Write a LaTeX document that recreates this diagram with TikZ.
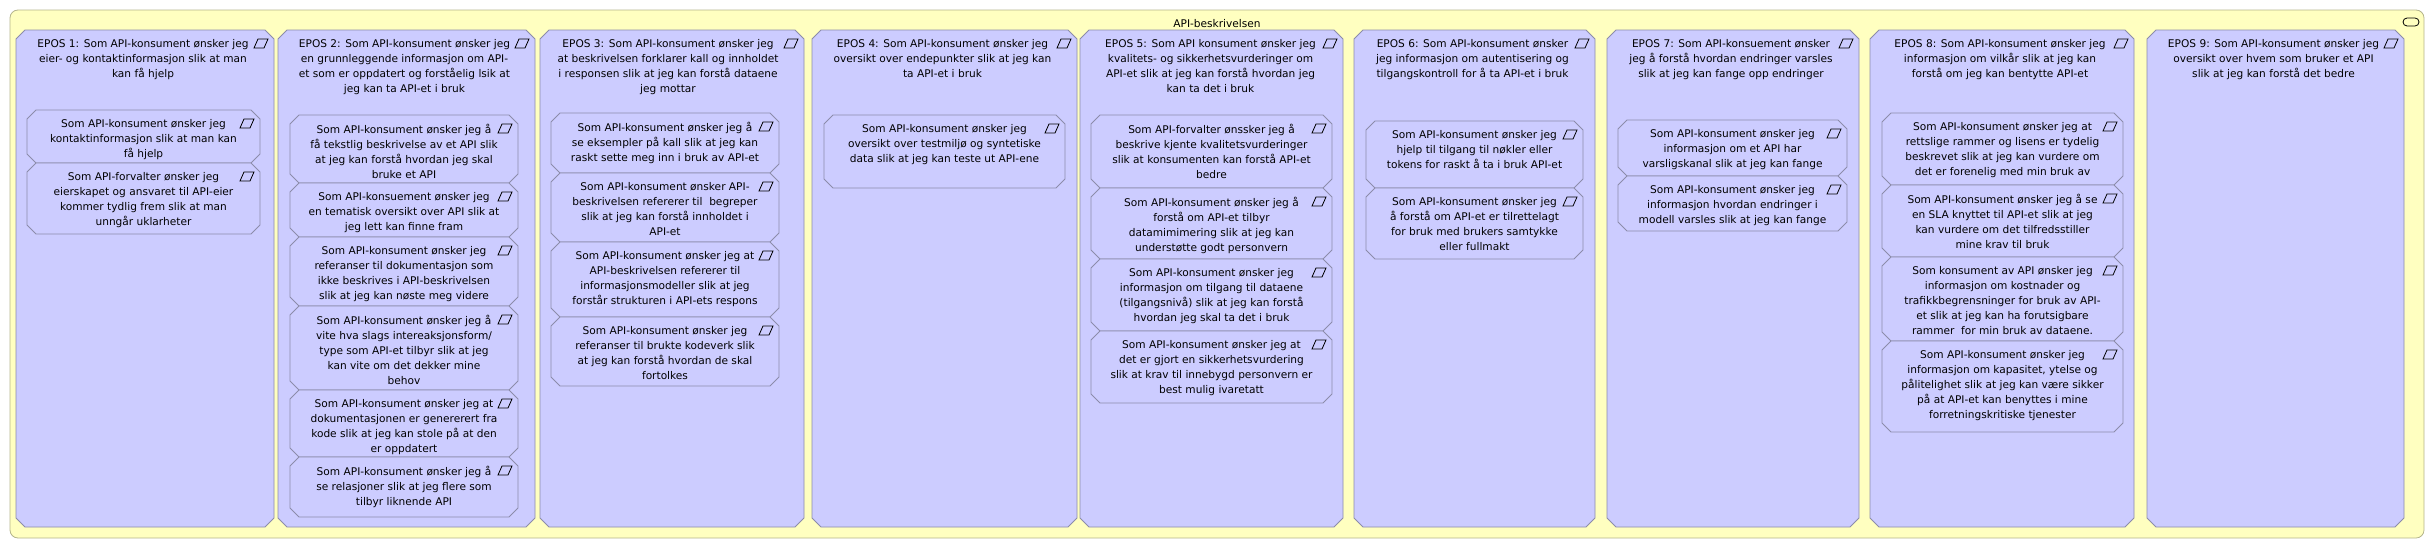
\documentclass[tikz,border=0pt]{standalone}
\usepackage{fontspec}
\setmainfont{DejaVu Sans}
\usetikzlibrary{positioning}

\definecolor{areayellow}{HTML}{FFFFC0}
\definecolor{arealine}{HTML}{B4B48C}
\definecolor{epicfill}{HTML}{CCCCFF}
\definecolor{epicline}{HTML}{8C8CAA}

\tikzset{
  storymark/.pic={
    \draw[black, line width=0.8pt] (-20,18) -- (-10,18) -- (-6,9) -- (-16,9) -- cycle;
  }
}

% chamfered outline round a named box
\newcommand{\chamfer}[1]{
  \filldraw[draw=epicline, fill=epicfill, line width=0.8pt]
    ([xshift=9pt]#1.north west) -- ([xshift=-9pt]#1.north east)
    -- ([yshift=-9pt]#1.north east) -- ([yshift=9pt]#1.south east)
    -- ([xshift=-9pt]#1.south east) -- ([xshift=9pt]#1.south west)
    -- ([yshift=9pt]#1.south west) -- ([yshift=-9pt]#1.north west) -- cycle;
}

\begin{document}
\begin{tikzpicture}[x=1pt,y=-1pt,
    areabox/.style={rectangle, rounded corners=8pt, draw=arealine, fill=areayellow,
      line width=0.8pt, inner sep=0pt, outer sep=0pt, anchor=north west},
    epic/.style={rectangle, inner sep=0pt, outer sep=0pt,
      minimum height=497pt, anchor=north},
    story/.style={rectangle, inner sep=0pt, outer sep=0pt, anchor=north},
    storytext/.style={align=center, inner sep=0pt, anchor=north,
      font=\fontsize{10.6}{15}\selectfont}
  ]

    \useasboundingbox (0,0) rectangle (2433,549);

    \node[areabox,
          minimum width = 2414pt,
          minimum height = 528pt
          ] (area) at (10,10) {};
    \node[storytext, below=9pt of area.north] (title) {API-beskrivelsen};
    \node[rectangle,
          rounded corners = 4pt,
          draw,
          line width = 0.8pt,
          minimum width = 16pt,
          minimum height = 8pt,
          inner sep = 0pt
          ] (fold) at (2411,22) {};

    % epos columns
    \node[epic, minimum width = 258pt] (e1) at (145,30) {};
    \node[epic, minimum width = 257pt] (e2) at (406.5,30) {};
    \node[epic, minimum width = 264pt] (e3) at (672,30) {};
    \node[epic, minimum width = 265pt] (e4) at (944.5,30) {};
    \node[epic, minimum width = 263pt] (e5) at (1211.5,30) {};
    \node[epic, minimum width = 241pt] (e6) at (1474.5,30) {};
    \node[epic, minimum width = 252pt] (e7) at (1733,30) {};
    \node[epic, minimum width = 264pt] (e8) at (2002,30) {};
    \node[epic, minimum width = 257pt] (e9) at (2275.5,30) {};

    % stories, epos 1
    \node[story, minimum width = 233pt, minimum height = 53pt] (s11) at (143.5,110) {};
    \node[story, minimum width = 233pt, minimum height = 71pt, below=0pt of s11] (s12) {};
    % stories, epos 2
    \node[story, minimum width = 228pt, minimum height = 68pt] (s21) at (404,115) {};
    \node[story, minimum width = 228pt, minimum height = 54pt, below=0pt of s21] (s22) {};
    \node[story, minimum width = 228pt, minimum height = 69pt, below=0pt of s22] (s23) {};
    \node[story, minimum width = 228pt, minimum height = 84pt, below=0pt of s23] (s24) {};
    \node[story, minimum width = 228pt, minimum height = 67pt, below=0pt of s24] (s25) {};
    \node[story, minimum width = 228pt, minimum height = 60pt, below=0pt of s25] (s26) {};
    % stories, epos 3
    \node[story, minimum width = 228pt, minimum height = 60pt] (s31) at (665,113) {};
    \node[story, minimum width = 228pt, minimum height = 69pt, below=0pt of s31] (s32) {};
    \node[story, minimum width = 228pt, minimum height = 75pt, below=0pt of s32] (s33) {};
    \node[story, minimum width = 228pt, minimum height = 69pt, below=0pt of s33] (s34) {};
    % stories, epos 4
    \node[story, minimum width = 241pt, minimum height = 73pt] (s41) at (944.5,115) {};
    % stories, epos 5
    \node[story, minimum width = 241pt, minimum height = 73pt] (s51) at (1211.5,115) {};
    \node[story, minimum width = 241pt, minimum height = 71pt, below=0pt of s51] (s52) {};
    \node[story, minimum width = 241pt, minimum height = 72pt, below=0pt of s52] (s53) {};
    \node[story, minimum width = 241pt, minimum height = 72pt, below=0pt of s53] (s54) {};
    % stories, epos 6
    \node[story, minimum width = 217pt, minimum height = 67pt] (s61) at (1474.5,121) {};
    \node[story, minimum width = 217pt, minimum height = 71pt, below=0pt of s61] (s62) {};
    % stories, epos 7
    \node[story, minimum width = 229pt, minimum height = 56pt] (s71) at (1732.5,120) {};
    \node[story, minimum width = 229pt, minimum height = 55pt, below=0pt of s71] (s72) {};
    % stories, epos 8
    \node[story, minimum width = 241pt, minimum height = 72pt] (s81) at (2002.5,113) {};
    \node[story, minimum width = 241pt, minimum height = 72pt, below=0pt of s81] (s82) {};
    \node[story, minimum width = 241pt, minimum height = 84pt, below=0pt of s82] (s83) {};
    \node[story, minimum width = 241pt, minimum height = 91pt, below=0pt of s83] (s84) {};

    % outlines and marks
    \foreach \n in {e1,e2,e3,e4,e5,e6,e7,e8,e9,
                    s11,s12,s21,s22,s23,s24,s25,s26,s31,s32,s33,s34,s41,
                    s51,s52,s53,s54,s61,s62,s71,s72,s81,s82,s83,s84}{
        \chamfer{\n}
        \pic at (\n.north -| \n.east) {storymark};
    }

    % texts
    \node[storytext, below=9pt of e1.north, xshift=-2pt] {EPOS 1: Som API-konsument ønsker jeg\\eier- og kontaktinformasjon slik at man\\kan få hjelp};
    \node[storytext, below=9pt of e2.north, xshift=-2pt] {EPOS 2: Som API-konsument ønsker jeg\\en grunnleggende informasjon om API-\\et som er oppdatert og forståelig lsik at\\jeg kan ta API-et i bruk};
    \node[storytext, below=9pt of e3.north, xshift=-4pt] {EPOS 3: Som API-konsument ønsker jeg\\at beskrivelsen forklarer kall og innholdet\\i responsen slik at jeg kan forstå dataene\\jeg mottar};
    \node[storytext, below=9pt of e4.north, xshift=-2pt] {EPOS 4: Som API-konsument ønsker jeg\\oversikt over endepunkter slik at jeg kan\\ta API-et i bruk};
    \node[storytext, below=9pt of e5.north, xshift=-1pt] {EPOS 5: Som API konsument ønsker jeg\\kvalitets- og sikkerhetsvurderinger om\\API-et slik at jeg kan forstå hvordan jeg\\kan ta det i bruk};
    \node[storytext, below=9pt of e6.north, xshift=-2pt] {EPOS 6: Som API-konsument ønsker\\jeg informasjon om autentisering og\\tilgangskontroll for å ta API-et i bruk};
    \node[storytext, below=9pt of e7.north, xshift=-2pt] {EPOS 7: Som API-konsuement ønsker\\jeg å forstå hvordan endringer varsles\\slik at jeg kan fange opp endringer};
    \node[storytext, below=9pt of e8.north, xshift=-2pt] {EPOS 8: Som API-konsument ønsker jeg\\informasjon om vilkår slik at jeg kan\\forstå om jeg kan bentytte API-et};
    \node[storytext, below=9pt of e9.north, xshift=-2pt] {EPOS 9: Som API-konsument ønsker jeg\\oversikt over hvem som bruker et API\\slik at jeg kan forstå det bedre};

    \node[storytext, below=9pt of s11.north] {Som API-konsument ønsker jeg\\kontaktinformasjon slik at man kan\\få hjelp};
    \node[storytext, below=9pt of s12.north] {Som API-forvalter ønsker jeg\\eierskapet og ansvaret til API-eier\\kommer tydlig frem slik at man\\unngår uklarheter};

    \node[storytext, below=9pt of s21.north] {Som API-konsument ønsker jeg å\\få tekstlig beskrivelse av et API slik\\at jeg kan forstå hvordan jeg skal\\bruke et API};
    \node[storytext, below=9pt of s22.north] {Som API-konsuement ønsker jeg\\en tematisk oversikt over API slik at\\jeg lett kan finne fram};
    \node[storytext, below=9pt of s23.north] {Som API-konsument ønsker jeg\\referanser til dokumentasjon som\\ikke beskrives i API-beskrivelsen\\slik at jeg kan nøste meg videre};
    \node[storytext, below=9pt of s24.north] {Som API-konsument ønsker jeg å\\vite hva slags intereaksjonsform/\\type som API-et tilbyr slik at jeg\\kan vite om det dekker mine\\behov};
    \node[storytext, below=9pt of s25.north] {Som API-konsument ønsker jeg at\\dokumentasjonen er genererert fra\\kode slik at jeg kan stole på at den\\er oppdatert};
    \node[storytext, below=9pt of s26.north] {Som API-konsument ønsker jeg å\\se relasjoner slik at jeg flere som\\tilbyr liknende API};

    \node[storytext, below=9pt of s31.north] {Som API-konsument ønsker jeg å\\se eksempler på kall slik at jeg kan\\raskt sette meg inn i bruk av API-et};
    \node[storytext, below=9pt of s32.north] {Som API-konsument ønsker API-\\beskrivelsen refererer til\ \ begreper\\slik at jeg kan forstå innholdet i\\API-et};
    \node[storytext, below=9pt of s33.north] {Som API-konsument ønsker jeg at\\API-beskrivelsen refererer til\\informasjonsmodeller slik at jeg\\forstår strukturen i API-ets respons};
    \node[storytext, below=9pt of s34.north] {Som API-konsument ønsker jeg\\referanser til brukte kodeverk slik\\at jeg kan forstå hvordan de skal\\fortolkes};

    \node[storytext, below=9pt of s41.north] {Som API-konsument ønsker jeg\\oversikt over testmiljø og syntetiske\\data slik at jeg kan teste ut API-ene};

    \node[storytext, below=9pt of s51.north] {Som API-forvalter ønssker jeg å\\beskrive kjente kvalitetsvurderinger\\slik at konsumenten kan forstå API-et\\bedre};
    \node[storytext, below=9pt of s52.north] {Som API-konsument ønsker jeg å\\forstå om API-et tilbyr\\datamimimering slik at jeg kan\\understøtte godt personvern};
    \node[storytext, below=9pt of s53.north] {Som API-konsument ønsker jeg\\informasjon om tilgang til dataene\\(tilgangsnivå) slik at jeg kan forstå\\hvordan jeg skal ta det i bruk};
    \node[storytext, below=9pt of s54.north] {Som API-konsument ønsker jeg at\\det er gjort en sikkerhetsvurdering\\slik at krav til innebygd personvern er\\best mulig ivaretatt};

    \node[storytext, below=9pt of s61.north] {Som API-konsument ønsker jeg\\hjelp til tilgang til nøkler eller\\tokens for raskt å ta i bruk API-et};
    \node[storytext, below=9pt of s62.north] {Som API-konsument ønsker jeg\\å forstå om API-et er tilrettelagt\\for bruk med brukers samtykke\\eller fullmakt};

    \node[storytext, below=9pt of s71.north] {Som API-konsument ønsker jeg\\informasjon om et API har\\varsligskanal slik at jeg kan fange};
    \node[storytext, below=9pt of s72.north] {Som API-konsument ønsker jeg\\informasjon hvordan endringer i\\modell varsles slik at jeg kan fange};

    \node[storytext, below=9pt of s81.north] {Som API-konsument ønsker jeg at\\rettslige rammer og lisens er tydelig\\beskrevet slik at jeg kan vurdere om\\det er forenelig med min bruk av};
    \node[storytext, below=9pt of s82.north] {Som API-konsument ønsker jeg å se\\en SLA knyttet til API-et slik at jeg\\kan vurdere om det tilfredsstiller\\mine krav til bruk};
    \node[storytext, below=9pt of s83.north] {Som konsument av API ønsker jeg\\informasjon om kostnader og\\trafikkbegrensninger for bruk av API-\\et slik at jeg kan ha forutsigbare\\rammer\ \ for min bruk av dataene.};
    \node[storytext, below=9pt of s84.north] {Som API-konsument ønsker jeg\\informasjon om kapasitet, ytelse og\\pålitelighet slik at jeg kan være sikker\\på at API-et kan benyttes i mine\\forretningskritiske tjenester};

\end{tikzpicture}
\end{document}
